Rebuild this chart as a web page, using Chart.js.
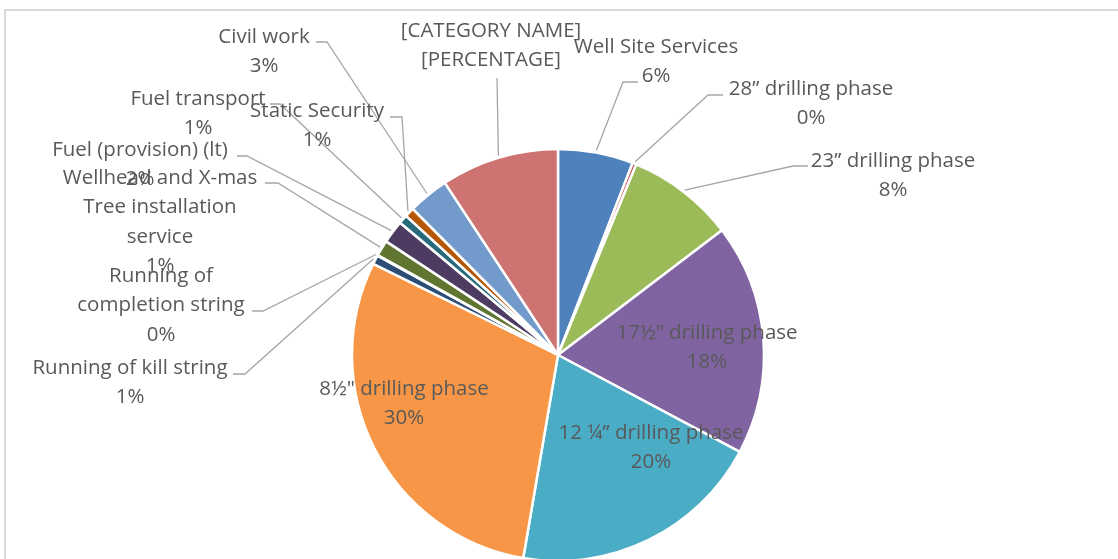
<!DOCTYPE html>
<html>
<head>
<meta charset="utf-8">
<script src="https://cdn.jsdelivr.net/npm/chart.js@4/dist/chart.umd.min.js"></script>
<style>
  html, body { margin: 0; padding: 0; background: #fff; overflow: hidden; }
  #wrap { position: relative; width: 1118px; height: 559px; }
  #frame { position: absolute; left: 4px; top: 9px; width: 1200px; height: 700px;
           border-top: 2px solid #d9d9d9; border-left: 2px solid #d9d9d9; }
  canvas { position: absolute; left: 0; top: 0; }
</style>
</head>
<body>
<div id="wrap">
  <div id="frame"></div>
  <canvas id="costPie" width="1118" height="559"></canvas>
</div>
<script>
// well cost breakdown, share of total (%)
const categories = [
  "Well Site Services",
  "28\u201d drilling phase",
  "23\u201d drilling phase",
  "17\u00bd\" drilling phase",
  "12 \u00bc\u201d drilling phase",
  "8\u00bd\" drilling phase",
  "Running of kill string",
  ["Running of", "completion string"],
  ["Wellhead and X-mas", "Tree installation", "service"],
  "Fuel (provision) (lt)",
  "Fuel transport",
  "Static Security",
  "Civil work",
  "[CATEGORY NAME]",
];
const shares = [5.9, 0.3, 8.45, 18.15, 19.9, 29.6, 0.7, 0.05, 1.25, 1.8, 0.7, 0.75, 3.2, 9.25];
// label text that Excel left as a placeholder
const percentOverride = { 13: "[PERCENTAGE]" };

const sliceColors = [
  "#4F81BD", "#C0504D", "#9BBB59", "#8064A2", "#4BACC6", "#F79646",
  "#2C4D75", "#772C2A", "#5F7530", "#4D3B62", "#276A7C", "#B65708",
  "#729ACA", "#CD7371",
];

// where each data label sits (text centre, first line) and its leader elbow
const labelPos = [
  { x: 656, y: 47, lead: [638, 82, 623, 82] },
  { x: 811, y: 89, lead: [723, 95, 708, 95] },
  { x: 893, y: 161, lead: [808, 166, 793, 166] },
  { x: 707, y: 333 },
  { x: 651, y: 433 },
  { x: 404, y: 389 },
  { x: 130, y: 368, lead: [233, 374, 245, 374] },
  { x: 161, y: 276, lead: [252, 311, 263, 311] },
  { x: 160, y: 178, lead: [265, 183, 278, 183] },
  { x: 140, y: 150, lead: [237, 156, 247, 156] },
  { x: 198, y: 99, lead: [270, 104, 280, 104] },
  { x: 317, y: 111, lead: [390, 117, 402, 117] },
  { x: 264, y: 37, lead: [316, 42, 327, 42] },
  { x: 491, y: 31, lead: [497, 78, 497, 78] },
];

const FONT = '20.5px "Open Sans", sans-serif';
const LINE_H = 29.5;

const total = shares.reduce((a, b) => a + b, 0);
function percentText(i) {
  if (percentOverride[i]) return percentOverride[i];
  return Math.round(shares[i] / total * 100) + "%";
}

const pieLabels = {
  id: "pieLabels",
  afterDatasetsDraw(chart) {
    const ctx = chart.ctx;
    const meta = chart.getDatasetMeta(0);
    ctx.save();
    // leader lines first
    ctx.strokeStyle = "#A6A6A6";
    ctx.lineWidth = 1.3;
    meta.data.forEach((arc, i) => {
      const p = labelPos[i];
      if (!p.lead) return;
      const mid = (arc.startAngle + arc.endAngle) / 2;
      const r = arc.outerRadius + 2;
      ctx.beginPath();
      ctx.moveTo(p.lead[0], p.lead[1]);
      ctx.lineTo(p.lead[2], p.lead[3]);
      ctx.lineTo(arc.x + Math.cos(mid) * r, arc.y + Math.sin(mid) * r);
      ctx.stroke();
    });
    ctx.font = FONT;
    ctx.fillStyle = "#595959";
    ctx.textAlign = "center";
    ctx.textBaseline = "middle";
    meta.data.forEach((arc, i) => {
      const p = labelPos[i];
      const lines = [].concat(categories[i], percentText(i));
      lines.forEach((t, k) => ctx.fillText(t, p.x, p.y + k * LINE_H));
    });
    ctx.restore();
  },
};

const ctx = document.getElementById("costPie").getContext("2d");
const costPie = new Chart(ctx, {
  type: "pie",
  data: {
    labels: categories,
    datasets: [
      {
        data: shares,
        backgroundColor: sliceColors,
        borderColor: "#ffffff",
        borderWidth: 2.5,
        clip: false,
      },
    ],
  },
  options: {
    responsive: false,
    animation: false,
    radius: 206,
    layout: { padding: { top: 151, left: 0, right: 2, bottom: 0 } },
    plugins: {
      legend: { display: false },
      tooltip: { enabled: false },
    },
  },
  plugins: [pieLabels],
});
</script>
</body>
</html>
